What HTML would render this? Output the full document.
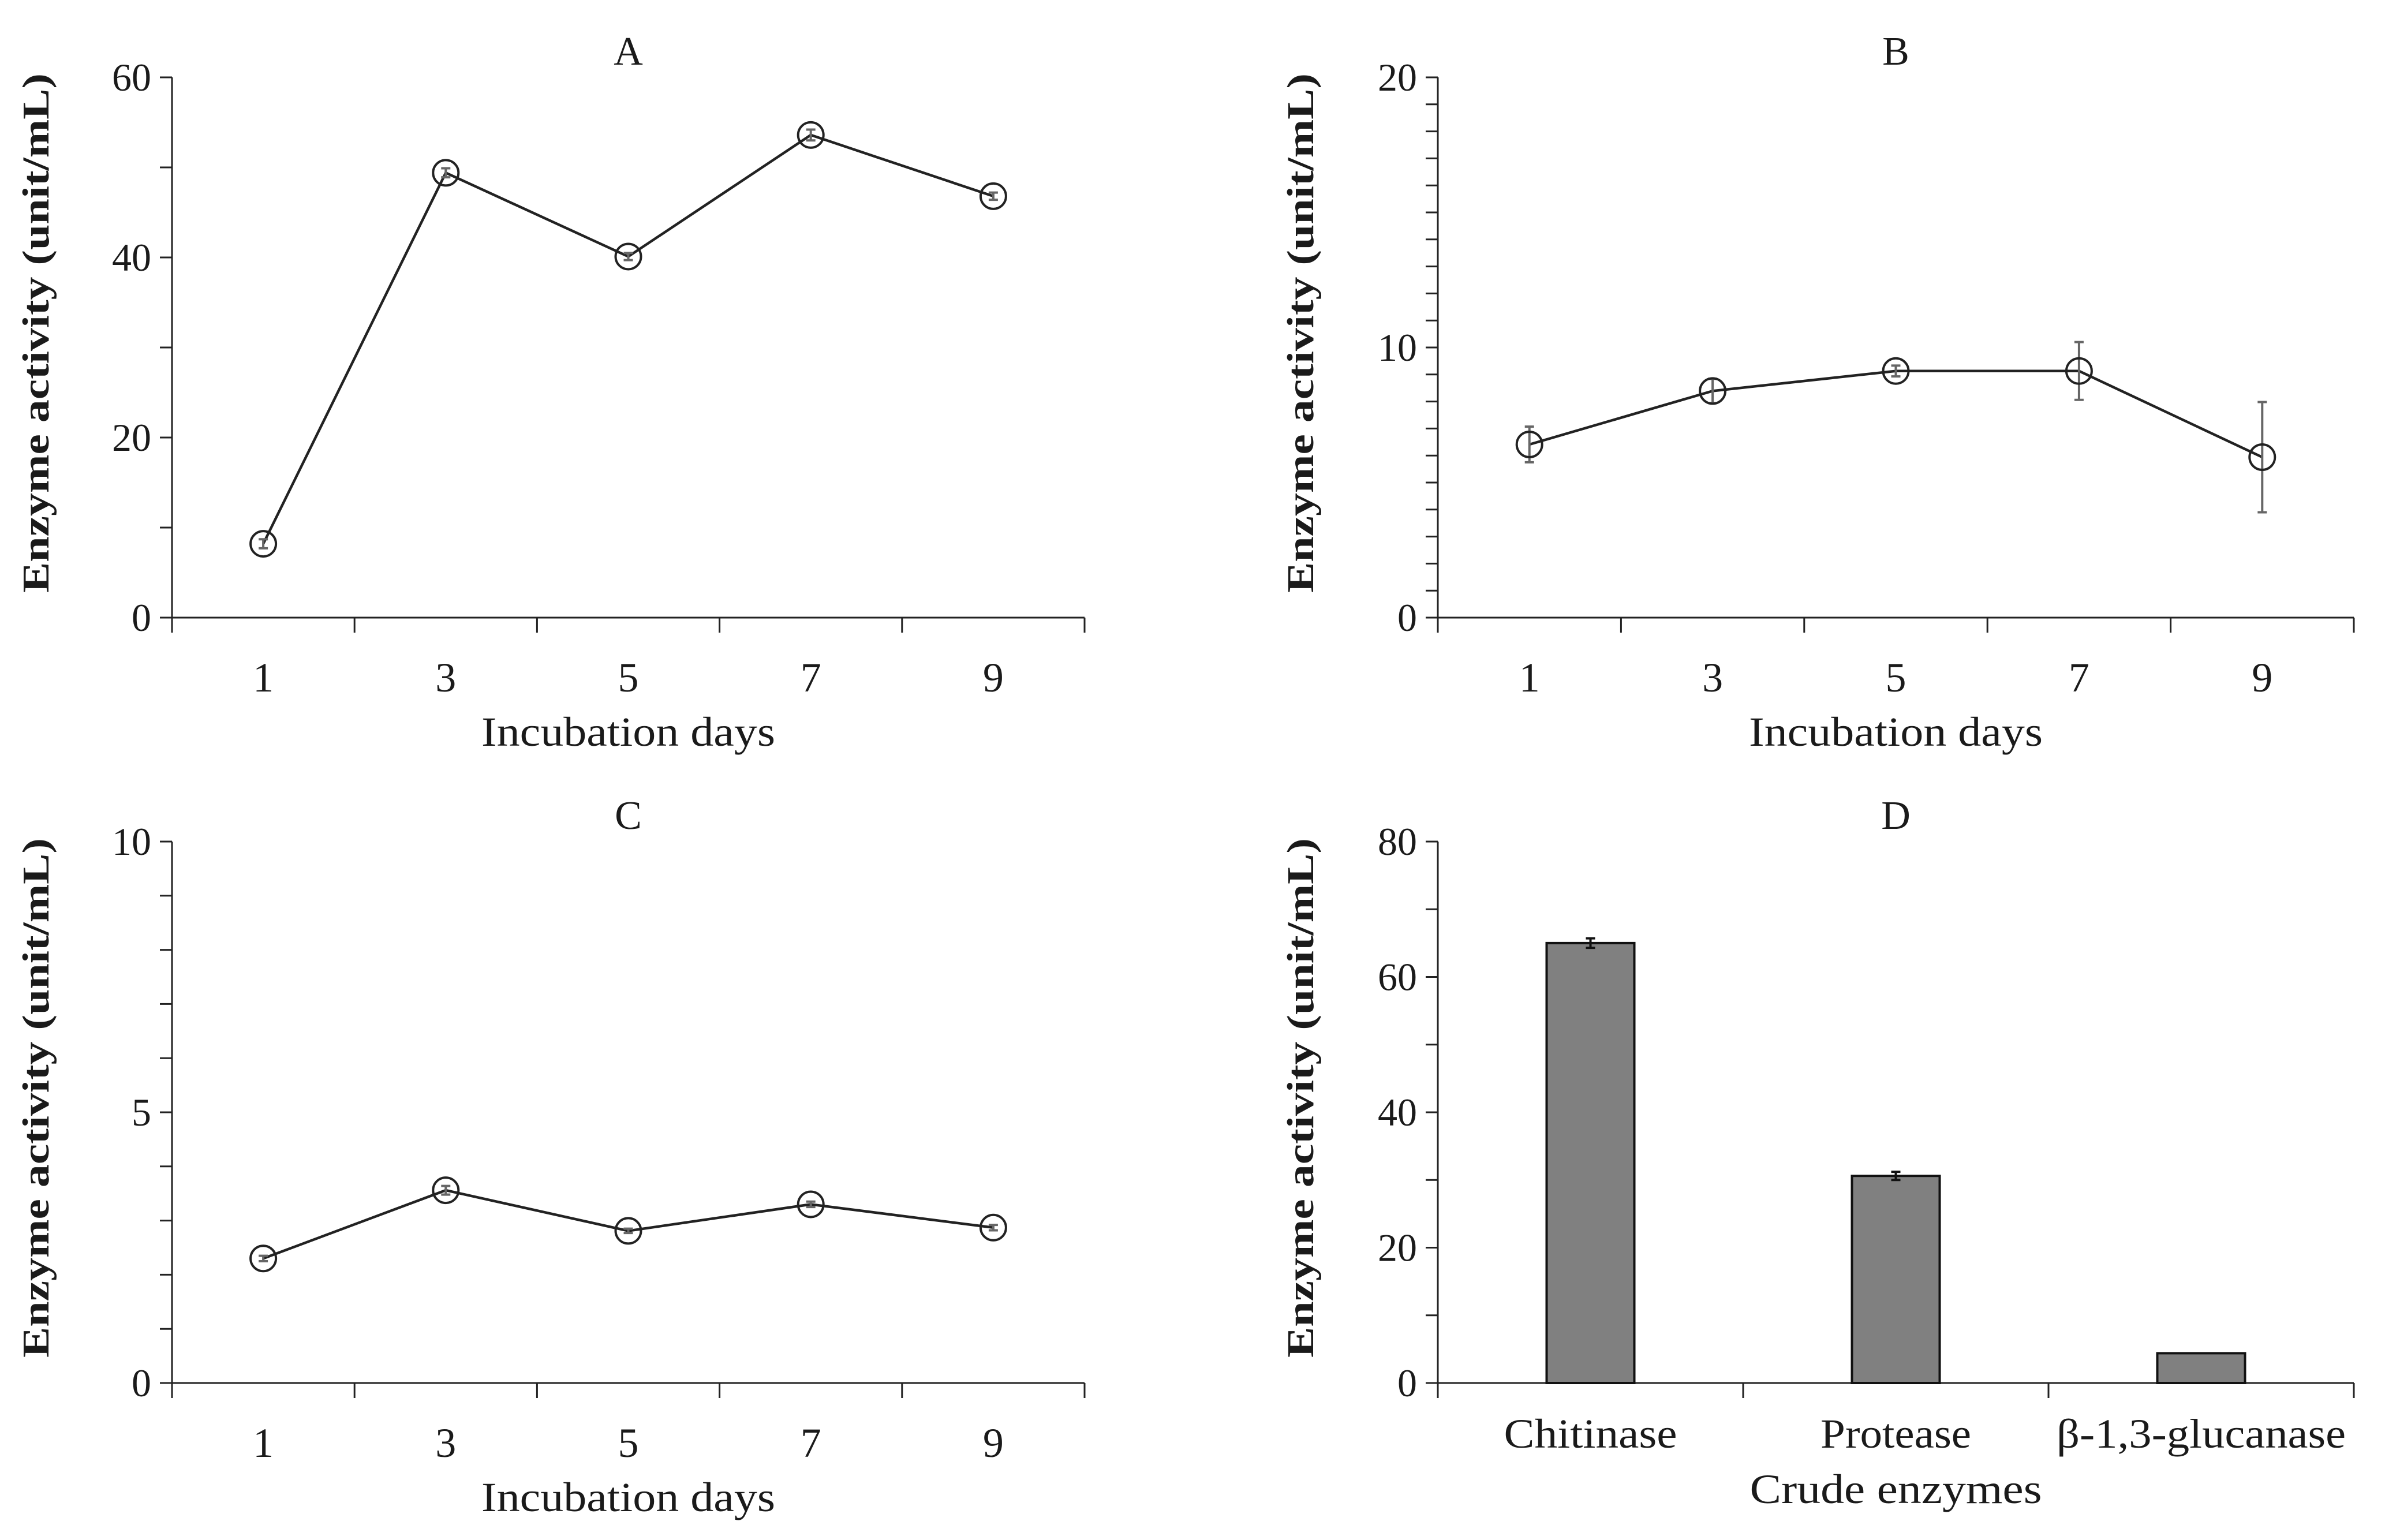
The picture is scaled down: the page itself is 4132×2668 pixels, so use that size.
<!DOCTYPE html>
<html><head><meta charset="utf-8">
<style>html,body{margin:0;padding:0;background:#fff}svg{display:block}text{font-family:"Liberation Serif",serif;fill:#1a1a1a}</style>
</head><body>
<svg id="fig" xmlns="http://www.w3.org/2000/svg" width="4132" height="2668" viewBox="0 0 4132 2668"></svg>
<script>
const daysLabels = ["1","3","5","7","9"];
const aValues = [8.2, 49.4, 40.1, 53.6, 46.8];
const aErrors = [0.5, 0.5, 0.4, 0.6, 0.4];
const bValues = [6.41, 8.39, 9.13, 9.13, 5.94];
const bErrors = [0.66, 0.45, 0.2, 1.07, 2.04];
const cValues = [2.30, 3.56, 2.81, 3.30, 2.87];
const cErrors = [0.05, 0.08, 0.04, 0.05, 0.05];
const dCategories = ["Chitinase", "Protease", "β-1,3-glucanase"];
const dValues = [65.0, 30.6, 4.4];
const dErrors = [0.7, 0.6, 0];
const aTicks = [0, 20, 40, 60];
const bTicks = [0, 10, 20];
const cTicks = [0, 5, 10];
const dTicks = [0, 20, 40, 60, 80];
const dLabelWidths = [300, 261, 501];

const NS = "http://www.w3.org/2000/svg";
const svg = document.getElementById("fig");
function mk(tag, attrs, parent) {
  const e = document.createElementNS(NS, tag);
  for (const k in attrs) e.setAttribute(k, attrs[k]);
  (parent || svg).appendChild(e);
  return e;
}
function panel(cfg) {
  const g = mk("g", {});
  
  
  const {x0, x1, yTop, yBot, max, minorStep, ticks, cats} = cfg;
  const yS = v => yBot - (v / max) * (yBot - yTop);
  const n = cats.length;
  const bw = (x1 - x0) / n;
  const xS = i => x0 + bw * (i + 0.5);
  const ya = mk("line", {x1: x0, y1: yTop, x2: x0, y2: yBot, stroke: "#222", "stroke-width": 3}, g);
  
  
  const xa = mk("line", {x1: x0 - 21, y1: yBot, x2: x1, y2: yBot, stroke: "#222", "stroke-width": 3}, g);
  
  
  for (let v = 0; v <= max + 1e-9; v += minorStep) {
    const t = mk("line", {x1: x0 - 21, y1: yS(v), x2: x0, y2: yS(v), stroke: "#222", "stroke-width": 3}, g);
    
    
  }
  ticks.forEach(v => {
    const t = mk("text", {x: x0 - 36, y: yS(v) + 23, "text-anchor": "end", "font-size": 68}, g);
    t.textContent = v;
    
    
  });
  for (let i = 0; i <= n; i++) {
    const t = mk("line", {x1: x0 + bw * i, y1: yBot, x2: x0 + bw * i, y2: yBot + 26, stroke: "#222", "stroke-width": 3}, g);
    
    
  }
  cats.forEach((c, i) => {
    const a = {x: xS(i), y: yBot + cfg.tickDy, "text-anchor": "middle", "font-size": 72};
    if (cfg.catWidths) { a.textLength = cfg.catWidths[i]; a.lengthAdjust = "spacingAndGlyphs"; }
    const t = mk("text", a, g);
    t.textContent = c;
    
    
  });
  const xl = mk("text", {x: (x0 + x1) / 2, y: yBot + cfg.labelDy, "text-anchor": "middle", "font-size": 72, textLength: cfg.xlw, lengthAdjust: "spacingAndGlyphs"}, g);
  xl.textContent = cfg.xlabel;
  
  
  const ly = (yTop + yBot) / 2 - 25;
  const yl = mk("text", {x: cfg.ylx, y: ly, "text-anchor": "middle", "font-size": 66, "font-weight": "bold", transform: `rotate(-90 ${cfg.ylx} ${ly})`, textLength: 900, lengthAdjust: "spacingAndGlyphs"}, g);
  yl.textContent = "Enzyme activity (unit/mL)";
  
  
  const tt = mk("text", {x: (x0 + x1) / 2, y: yTop - 22, "text-anchor": "middle", "font-size": 70}, g);
  tt.textContent = cfg.title;
  
  
  const vals = cfg.values, errs = cfg.errors;
  if (cfg.bars) {
    vals.forEach((v, i) => {
      const b = mk("rect", {x: xS(i) - 76, y: yS(v), width: 152, height: yBot - yS(v), fill: "#808080", stroke: "#111", "stroke-width": 4}, g);
      
      
      if (errs[i] > 0) {
        const e = mk("path", {d: `M${xS(i)-8} ${yS(v+errs[i])}H${xS(i)+8}M${xS(i)} ${yS(v+errs[i])}V${yS(v-errs[i])}M${xS(i)-8} ${yS(v-errs[i])}H${xS(i)+8}`, stroke: "#111", "stroke-width": 4, fill: "none"}, g);
        
        
      }
    });
  } else {
    const pts = vals.map((v, i) => `${xS(i)},${yS(v)}`).join(" ");
    const pl = mk("polyline", {points: pts, fill: "none", stroke: "#222", "stroke-width": 4.5}, g);
    
    
    vals.forEach((v, i) => {
      const e = mk("path", {d: `M${xS(i)-8} ${yS(v+errs[i])}H${xS(i)+8}M${xS(i)} ${yS(v+errs[i])}V${yS(v-errs[i])}M${xS(i)-8} ${yS(v-errs[i])}H${xS(i)+8}`, stroke: "#666", "stroke-width": 4, fill: "none"}, g);
      
      
      const c = mk("circle", {cx: xS(i), cy: yS(v), r: 22, fill: "none", stroke: "#222", "stroke-width": 4}, g);
      
      
    });
  }
}
panel({name: "panel-a", title: "A", x0: 298, x1: 1879, yTop: 134, yBot: 1070, max: 60, minorStep: 10, ticks: aTicks, cats: daysLabels, values: aValues, errors: aErrors, xlabel: "Incubation days", xlw: 509, ylx: 84, tickDy: 128, labelDy: 222});
panel({name: "panel-b", title: "B", x0: 2491, x1: 4078, yTop: 134, yBot: 1070, max: 20, minorStep: 1, ticks: bTicks, cats: daysLabels, values: bValues, errors: bErrors, xlabel: "Incubation days", xlw: 509, ylx: 2275, tickDy: 128, labelDy: 222});
panel({name: "panel-c", title: "C", x0: 298, x1: 1879, yTop: 1458, yBot: 2396, max: 10, minorStep: 1, ticks: cTicks, cats: daysLabels, values: cValues, errors: cErrors, xlabel: "Incubation days", xlw: 509, ylx: 84, tickDy: 128, labelDy: 222});
panel({name: "panel-d", title: "D", x0: 2491, x1: 4078, yTop: 1458, yBot: 2396, max: 80, minorStep: 10, ticks: dTicks, cats: dCategories, catWidths: dLabelWidths, values: dValues, errors: dErrors, xlabel: "Crude enzymes", xlw: 506, ylx: 2275, tickDy: 112, labelDy: 208, bars: true});
</script>
</body></html>
